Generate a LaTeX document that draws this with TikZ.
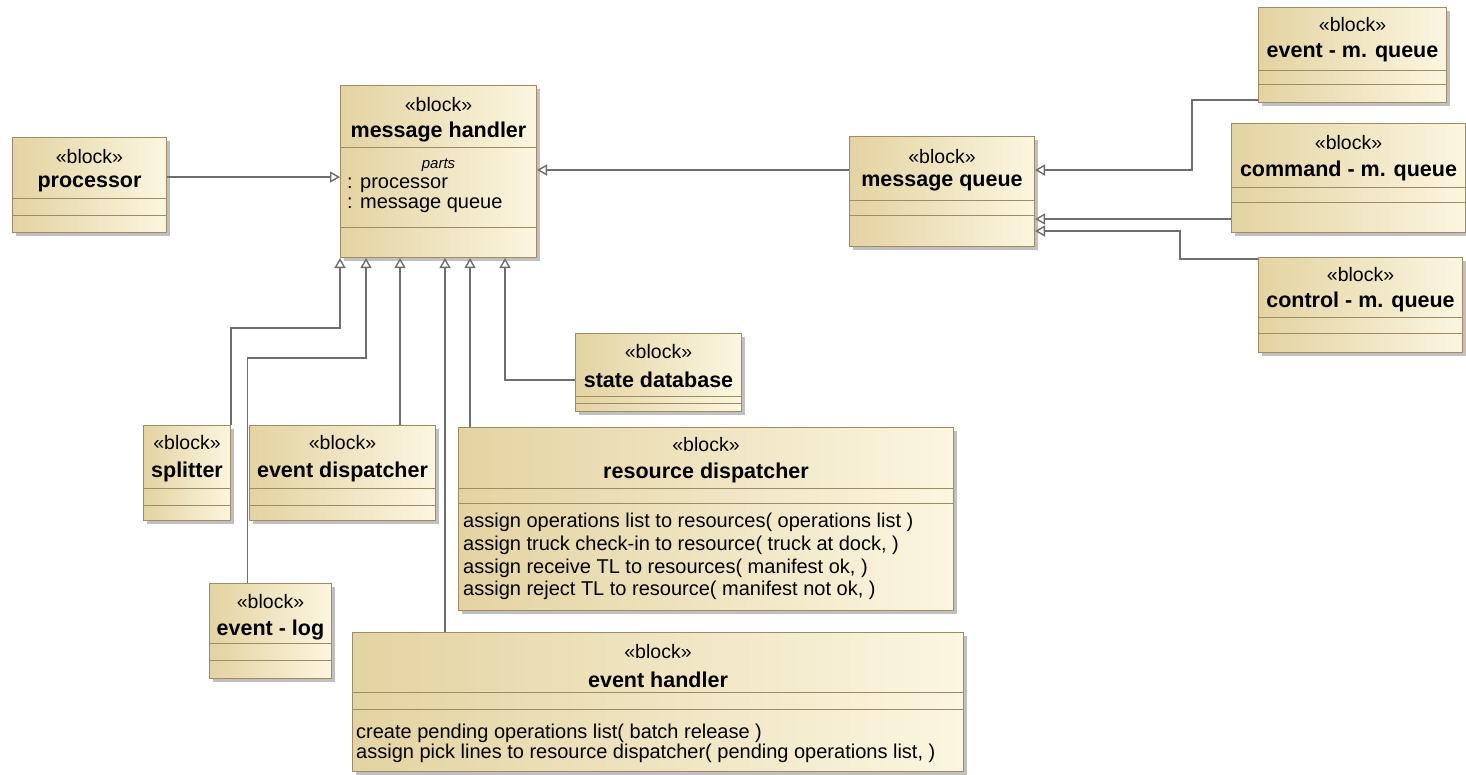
\documentclass[tikz,border=0pt]{standalone}
\usepackage{fontspec}
\setmainfont{Liberation Sans}
\usepackage{xcolor}
\usepackage{tikz}
\usetikzlibrary{arrows.meta,shadows,calc}
\definecolor{blktan}{HTML}{E4D3A2}
\definecolor{blkcream}{HTML}{FBF6E0}
\definecolor{blkline}{HTML}{A08C64}
\definecolor{conn}{HTML}{6E6E6E}
\newcommand{\cmpline}[2]{\draw[cmp] (#1.west |- 0,#2) -- (#1.east |- 0,#2);}
\tikzset{
  blk/.style={draw=blkline,line width=1pt,left color=blktan,right color=blkcream,anchor=north west,inner sep=0pt,
    drop shadow={shadow xshift=3.5pt,shadow yshift=-3.5pt,fill=black!45,opacity=.55}},
  cmp/.style={draw=blkline,line width=1pt},
  stereo/.style={font=\fontsize{19.5}{22}\selectfont,inner sep=0pt},
  bname/.style={font=\bfseries\fontsize{21.5}{24}\selectfont,inner sep=0pt},
  opr/.style={font=\fontsize{20}{23}\selectfont,anchor=west,inner sep=0pt},
  gen/.style={draw=conn,line width=1.4pt,-{Triangle[open,length=10pt,width=11pt,fill=white]}},
}

\begin{document}
\begin{tikzpicture}[x=1pt,y=-1pt]
  \useasboundingbox (0,0) rectangle (1466,774);
  % blocks
  \node[blk,minimum width=154pt,minimum height=95pt] (proc) at (12,137) {};
  \cmpline{proc}{198}\cmpline{proc}{215}
  \node[stereo] (proc-st) at (proc.north |- 0,157) {«block»};
  \node[bname] (proc-nm) at (proc.north |- 0,184) {processor};

  \node[blk,minimum width=196pt,minimum height=172pt] (mh) at (340,85) {};
  \cmpline{mh}{147}\cmpline{mh}{227}
  \node[stereo] (mh-st) at (mh.north |- 0,105) {«block»};
  \node[bname] (mh-nm) at (mh.north |- 0,132) {message handler};
  \node[stereo,font=\itshape\fontsize{15}{17}\selectfont] (mh-pt) at (mh.north |- 0,165) {parts};
  \node[opr] (mh-p1) at (347,185) {: processor};
  \node[opr] (mh-p2) at (347,205) {: message queue};

  \node[blk,minimum width=185pt,minimum height=110pt] (mq) at (849,136) {};
  \cmpline{mq}{200}\cmpline{mq}{215}
  \node[stereo] (mq-st) at (mq.north |- 0,157) {«block»};
  \node[bname] (mq-nm) at (mq.north |- 0,183) {message queue};

  \node[blk,minimum width=188pt,minimum height=95pt] (emq) at (1258,7) {};
  \cmpline{emq}{70}\cmpline{emq}{84}
  \node[stereo] (emq-st) at (emq.north |- 0,25) {«block»};
  \node[bname] (emq-nm) at (emq.north |- 0,53) {event - m. queue};

  \node[blk,minimum width=234pt,minimum height=109pt] (cmq) at (1231,123) {};
  \cmpline{cmq}{187}\cmpline{cmq}{202}
  \node[stereo] (cmq-st) at (cmq.north |- 0,143) {«block»};
  \node[bname] (cmq-nm) at (cmq.north |- 0,171) {command - m. queue};

  \node[blk,minimum width=204pt,minimum height=95pt] (ctq) at (1258,257) {};
  \cmpline{ctq}{317}\cmpline{ctq}{333}
  \node[stereo] (ctq-st) at (ctq.north |- 0,275) {«block»};
  \node[bname] (ctq-nm) at (ctq.north |- 0,302) {control - m. queue};

  \node[blk,minimum width=166pt,minimum height=78pt] (sdb) at (575,333) {};
  \cmpline{sdb}{396}\cmpline{sdb}{403}
  \node[stereo] (sdb-st) at (sdb.north |- 0,352) {«block»};
  \node[bname] (sdb-nm) at (sdb.north |- 0,380) {state database};

  \node[blk,minimum width=87pt,minimum height=95pt] (spl) at (143,425) {};
  \cmpline{spl}{488}\cmpline{spl}{505}
  \node[stereo] (spl-st) at (spl.north |- 0,443) {«block»};
  \node[bname] (spl-nm) at (spl.north |- 0,472) {splitter};

  \node[blk,minimum width=186pt,minimum height=95pt] (edp) at (249,425) {};
  \cmpline{edp}{488}\cmpline{edp}{505}
  \node[stereo] (edp-st) at (edp.north |- 0,443) {«block»};
  \node[bname] (edp-nm) at (edp.north |- 0,472) {event dispatcher};

  \node[blk,minimum width=122pt,minimum height=95pt] (elog) at (209,583) {};
  \cmpline{elog}{643}\cmpline{elog}{660}
  \node[stereo] (elog-st) at (elog.north |- 0,602) {«block»};
  \node[bname] (elog-nm) at (elog.north |- 0,630) {event - log};

  \node[blk,minimum width=495pt,minimum height=183pt] (rdp) at (458,427) {};
  \cmpline{rdp}{488}\cmpline{rdp}{503}
  \node[stereo] (rdp-st) at (rdp.north |- 0,445) {«block»};
  \node[bname] (rdp-nm) at (rdp.north |- 0,473) {resource dispatcher};
  \node[opr] (rdp-o1) at (463,522) {assign operations list to resources( operations list )};
  \node[opr] (rdp-o2) at (463,545) {assign truck check-in to resource( truck at dock, )};
  \node[opr] (rdp-o3) at (463,568) {assign receive TL to resources( manifest ok, )};
  \node[opr] (rdp-o4) at (463,590) {assign reject TL to resource( manifest not ok, )};

  \node[blk,minimum width=611pt,minimum height=139pt] (eh) at (352,632) {};
  \cmpline{eh}{692}\cmpline{eh}{709}
  \node[stereo] (eh-st) at (eh.north |- 0,652) {«block»};
  \node[bname] (eh-nm) at (eh.north |- 0,680) {event handler};
  \node[opr] (eh-o1) at (356,733) {create pending operations list( batch release )};
  \node[opr] (eh-o2) at (356,753) {assign pick lines to resource dispatcher( pending operations list, )};

  % generalizations
  \coordinate (pj) at (0,177);
  \draw[gen] (proc.east |- pj) -- (mh.west |- pj);
  \coordinate (k0) at (0,170);
  \draw[gen] (mq.west |- k0) -- (mh.east |- k0);
  \coordinate (k1) at (1192,100);
  \draw[gen] (emq.west |- k1) -- (k1) |- (mq.east |- k0);
  \coordinate (k3) at (0,219);
  \draw[gen] (cmq.west |- k3) -- (mq.east |- k3);
  \coordinate (k4) at (1180,259);
  \coordinate (k5) at (0,231);
  \draw[gen] (ctq.west |- k4) -- (k4) |- (mq.east |- k5);

  \coordinate (j1) at (340,328);
  \draw[gen] (spl.north east) |- (j1) -- (j1 |- mh.south);
  \coordinate (j2) at (366,358);
  \draw[gen] ([xshift=-23pt]elog.north) |- (j2) -- (j2 |- mh.south);
  \coordinate (j3) at (400,0);
  \draw[gen] (edp.north -| j3) -- (mh.south -| j3);
  \coordinate (j4) at (445,0);
  \draw[gen] (eh.north -| j4) -- (mh.south -| j4);
  \coordinate (j5) at (470,0);
  \draw[gen] (rdp.north -| j5) -- (mh.south -| j5);
  \coordinate (j6) at (505,380);
  \draw[gen] (sdb.west |- j6) -- (j6) -- (j6 |- mh.south);
\end{tikzpicture}
\end{document}
